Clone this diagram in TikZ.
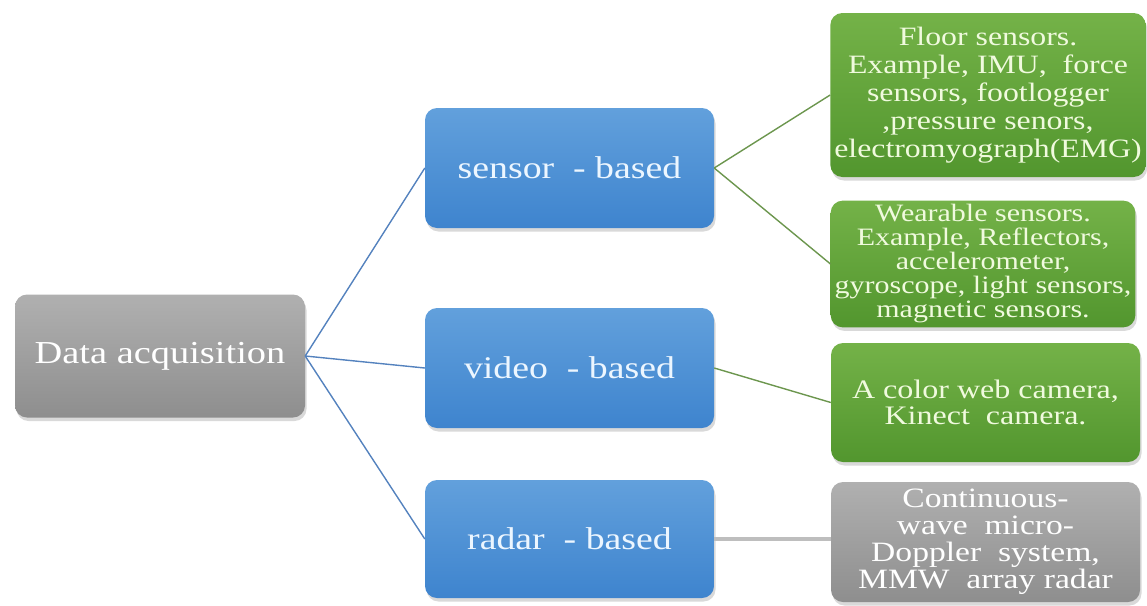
\documentclass[tikz,border=0pt]{standalone}
\usepackage{fontspec}
\setmainfont{Liberation Serif}[FakeStretch=1.2]
\usetikzlibrary{shadows}

\definecolor{blueTop}{RGB}{98,160,220}
\definecolor{blueBot}{RGB}{62,132,206}
\definecolor{greenTop}{RGB}{116,178,72}
\definecolor{greenBot}{RGB}{82,150,46}
\definecolor{grayTop}{RGB}{176,176,176}
\definecolor{grayBot}{RGB}{142,142,142}
\definecolor{blueLine}{RGB}{84,130,190}
\definecolor{greenLine}{RGB}{108,150,78}
\definecolor{grayLine}{RGB}{190,190,190}
\definecolor{greenText}{RGB}{240,250,222}
\definecolor{blueText}{RGB}{236,246,255}

\tikzset{
  card/.style={rounded corners=12pt, inner sep=4pt, align=center,
    drop shadow={opacity=0.3, shadow xshift=1.5pt, shadow yshift=-3.5pt}},
  graycard/.style={card, top color=grayTop, bottom color=grayBot, text=white},
  bluecard/.style={card, top color=blueTop, bottom color=blueBot, text=blueText,
    minimum width=289pt, minimum height=120pt, font=\fontsize{31.5}{33}\selectfont},
  greencard/.style={card, top color=greenTop, bottom color=greenBot, text=greenText},
  blueedge/.style={draw=blueLine, line width=1.4pt},
  greenedge/.style={draw=greenLine, line width=1.4pt},
  grayedge/.style={draw=grayLine, line width=4pt},
}

\begin{document}
\begin{tikzpicture}[x=1pt, y=-1pt]
  \useasboundingbox (0,0) rectangle (1147,605);

  % root
  \node[graycard, minimum width=290pt, minimum height=123pt,
        font=\fontsize{32}{34}\selectfont] (data) at (160,356) {Data acquisition};

  % acquisition families
  \node[bluecard] (sensor) at (569.5,168) {sensor\ \ - based};
  \node[bluecard] (video)  at (569.5,368) {video\ \ - based};
  \node[bluecard, minimum height=118pt] (radar) at (569.5,539) {radar\ \ - based};

  % examples
  \node[greencard, minimum width=314pt, minimum height=164pt,
        font=\fontsize{26.5}{28}\selectfont] (floor) at (988,95)
    {Floor sensors.\\ Example, IMU, \ force\\ sensors, footlogger\\ ,pressure senors,\\ electromyograph(EMG)};
  \node[greencard, minimum width=304pt, minimum height=122pt,
        font=\fontsize{25}{24}\selectfont] (wear) at (983,264)
    {Wearable sensors.\\ Example, Reflectors,\\ accelerometer,\\ gyroscope, light sensors,\\ magnetic sensors.};
  \node[greencard, minimum width=309pt, minimum height=119pt,
        font=\fontsize{26.7}{25.5}\selectfont] (cam) at (985.5,402.5)
    {A color web camera,\\ Kinect \ camera.};
  \node[graycard, minimum width=309pt, minimum height=120pt,
        font=\fontsize{28}{27}\selectfont] (doppler) at (985.5,542)
    {Continuous-\\ wave \ micro-\\ Doppler \ system,\\ MMW \ array radar};

  % connectors
  \draw[blueedge] (data.east) -- (sensor.west);
  \draw[blueedge] (data.east) -- (video.west);
  \draw[blueedge] (data.east) -- (radar.west);
  \draw[greenedge] (sensor.east) -- (floor.west);
  \draw[greenedge] (sensor.east) -- (wear.west);
  \draw[greenedge] (video.east) -- (cam.west);
  \draw[grayedge] (radar.east) -- (radar.east -| doppler.west);
\end{tikzpicture}
\end{document}
